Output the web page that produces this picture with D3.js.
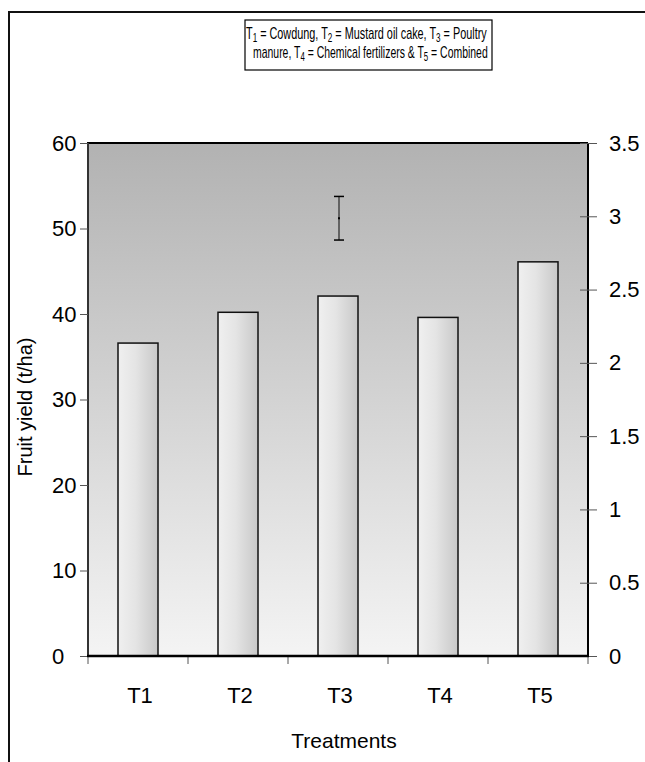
<!DOCTYPE html>
<html>
<head>
<meta charset="utf-8">
<script src="https://cdn.jsdelivr.net/npm/d3@7"></script>
<style>
  body { margin: 0; background: #fff; }
  text { font-family: Arial, "Liberation Sans", sans-serif; fill: #000; }
  .legend text { font-family: Arial, "Liberation Sans", sans-serif; }
</style>
</head>
<body>
<svg id="chart" width="645" height="762"></svg>
<script>
// data
const treatments = ["T1", "T2", "T3", "T4", "T5"];
const yieldValues = [36.6, 40.2, 42.1, 39.6, 46.1];
const leftTicks = [0, 10, 20, 30, 40, 50, 60];
const rightTicks = [0, 0.5, 1, 1.5, 2, 2.5, 3, 3.5];
const errorBar = { category: "T3", mid: 51.2, half: 2.55 };
const legendLines = [
  ["T", "1", " = Cowdung,  T", "2", " = Mustard oil cake,  T", "3", " = Poultry"],
  ["manure, T", "4", " = Chemical fertilizers & T", "5", " = Combined"]
];

const svg = d3.select("#chart");
const margin = { left: 88, top: 143, right: 588, bottom: 656 };

const x = d3.scaleBand().domain(treatments).range([margin.left, margin.right]);
const y = d3.scaleLinear().domain([0, 60]).range([margin.bottom, margin.top]);
const y2 = d3.scaleLinear().domain([0, 3.5]).range([margin.bottom, margin.top]);

// gradients
const defs = svg.append("defs");
const bg = defs.append("linearGradient").attr("id", "bgGrad")
    .attr("x1", 0).attr("y1", 0).attr("x2", 0).attr("y2", 1);
bg.append("stop").attr("offset", "0%").attr("stop-color", "#b2b2b2");
bg.append("stop").attr("offset", "100%").attr("stop-color", "#f4f4f4");

const barGrad = defs.append("linearGradient").attr("id", "barGrad")
    .attr("x1", 0).attr("y1", 0).attr("x2", 1).attr("y2", 0);
barGrad.append("stop").attr("offset", "0%").attr("stop-color", "#f0f0f0");
barGrad.append("stop").attr("offset", "45%").attr("stop-color", "#e4e4e4");
barGrad.append("stop").attr("offset", "100%").attr("stop-color", "#c8c8c8");

// outer frame
svg.append("path")
    .attr("d", "M9,762 L9,12 L645,12")
    .attr("fill", "none").attr("stroke", "#111").attr("stroke-width", 2);

// plot background
svg.append("rect")
    .attr("x", margin.left).attr("y", margin.top)
    .attr("width", margin.right - margin.left)
    .attr("height", margin.bottom - margin.top)
    .attr("fill", "url(#bgGrad)");

// plot border lines
svg.append("line")
    .attr("x1", margin.left - 1).attr("x2", margin.right)
    .attr("y1", margin.top).attr("y2", margin.top)
    .attr("stroke", "#000").attr("stroke-width", 2);
svg.append("line")
    .attr("x1", margin.right).attr("x2", margin.right)
    .attr("y1", margin.top).attr("y2", margin.bottom)
    .attr("stroke", "#000").attr("stroke-width", 2);
svg.append("line")
    .attr("x1", margin.left).attr("x2", margin.left)
    .attr("y1", margin.top).attr("y2", margin.bottom)
    .attr("stroke", "#333").attr("stroke-width", 2);

// bars
const barW = 40;
svg.append("g").selectAll("rect")
  .data(treatments)
  .join("rect")
    .attr("x", d => x(d) + x.bandwidth() / 2 - barW / 2)
    .attr("y", (d, i) => y(yieldValues[i]))
    .attr("width", barW)
    .attr("height", (d, i) => y(0) - y(yieldValues[i]))
    .attr("fill", "url(#barGrad)")
    .attr("stroke", "#111").attr("stroke-width", 1.5);

// error bar
const ex = x(errorBar.category) + x.bandwidth() / 2 + 1;
const eG = svg.append("g");
eG.append("line").attr("x1", ex).attr("x2", ex)
    .attr("y1", y(errorBar.mid + errorBar.half)).attr("y2", y(errorBar.mid - errorBar.half))
    .attr("stroke-width", 1.5).attr("stroke", "#444");
eG.selectAll(".cap").data([errorBar.mid + errorBar.half, errorBar.mid - errorBar.half])
  .join("line")
    .attr("x1", ex - 5).attr("x2", ex + 5)
    .attr("y1", d => y(d)).attr("y2", d => y(d))
    .attr("stroke-width", 1.5).attr("stroke", "#000");
eG.append("rect").attr("x", ex - 1).attr("y", y(errorBar.mid) - 1)
    .attr("width", 2).attr("height", 2).attr("fill", "#000");

// left axis: ticks from the axis, labels left-aligned
const leftAxis = svg.append("g")
    .attr("transform", `translate(${margin.left},0)`)
    .call(d3.axisLeft(y).tickValues(leftTicks).tickSize(8));
leftAxis.select(".domain").remove();
leftAxis.selectAll("line").attr("stroke", "#555");
leftAxis.selectAll("text")
    .attr("x", 52 - margin.left)
    .attr("text-anchor", "start")
    .attr("font-family", "Arial, Liberation Sans, sans-serif")
    .style("font-size", "22px");

// right axis (ticks cross the line)
const rightAxis = svg.append("g")
    .attr("transform", `translate(${margin.right},0)`)
    .call(d3.axisRight(y2).tickValues(rightTicks).tickFormat(d3.format("")).tickSize(9));
rightAxis.select(".domain").remove();
rightAxis.selectAll(".tick line").attr("x1", -8).attr("stroke", "#555");
rightAxis.selectAll("text")
    .attr("x", 609 - margin.right)
    .attr("font-family", "Arial, Liberation Sans, sans-serif")
    .style("font-size", "22px");

// bottom axis with ticks at category boundaries
const boundaries = treatments.map(d => x(d)).concat([margin.right]);
svg.append("g").selectAll("line")
  .data(boundaries)
  .join("line")
    .attr("x1", d => d).attr("x2", d => d)
    .attr("y1", margin.bottom).attr("y2", margin.bottom + 8)
    .attr("stroke", "#555");
svg.append("line")
    .attr("x1", margin.left - 1).attr("x2", margin.right + 1)
    .attr("y1", margin.bottom).attr("y2", margin.bottom)
    .attr("stroke", "#000").attr("stroke-width", 2.5);
svg.append("g").selectAll("text")
  .data(treatments)
  .join("text")
    .attr("x", d => x(d) + x.bandwidth() / 2 + 2)
    .attr("y", 703)
    .attr("text-anchor", "middle")
    .style("font-size", "22px")
    .text(d => d);

// axis titles
svg.append("text")
    .attr("x", 344).attr("y", 748)
    .attr("text-anchor", "middle")
    .style("font-size", "21px")
    .text("Treatments");
svg.append("text")
    .attr("transform", "translate(32,407) rotate(-90)")
    .attr("text-anchor", "middle")
    .style("font-size", "20px")
    .text("Fruit yield (t/ha)");

// legend box, text squeezed to fit like a narrow face
const lg = svg.append("g").attr("class", "legend");
lg.append("rect")
    .attr("x", 245).attr("y", 20).attr("width", 247).attr("height", 50)
    .attr("fill", "#fff").attr("stroke", "#000").attr("stroke-width", 1.2);
const lineSpan = [[246, 487], [253, 488]];
legendLines.forEach((parts, li) => {
  const g = lg.append("g");
  const t = g.append("text").attr("x", 0).attr("y", 0);
  parts.forEach((part, pi) => {
    const isSub = pi % 2 === 1;
    t.append("tspan")
      .attr("dy", isSub ? 3 : (pi > 0 ? -3 : 0))
      .style("font-size", isSub ? "12px" : "16px")
      .text(part);
  });
  const w = t.node().getComputedTextLength();
  const sx = (lineSpan[li][1] - lineSpan[li][0]) / w;
  g.attr("transform", `translate(${lineSpan[li][0]},${39 + li * 19}) scale(${sx},1)`);
});
</script>
</body>
</html>
